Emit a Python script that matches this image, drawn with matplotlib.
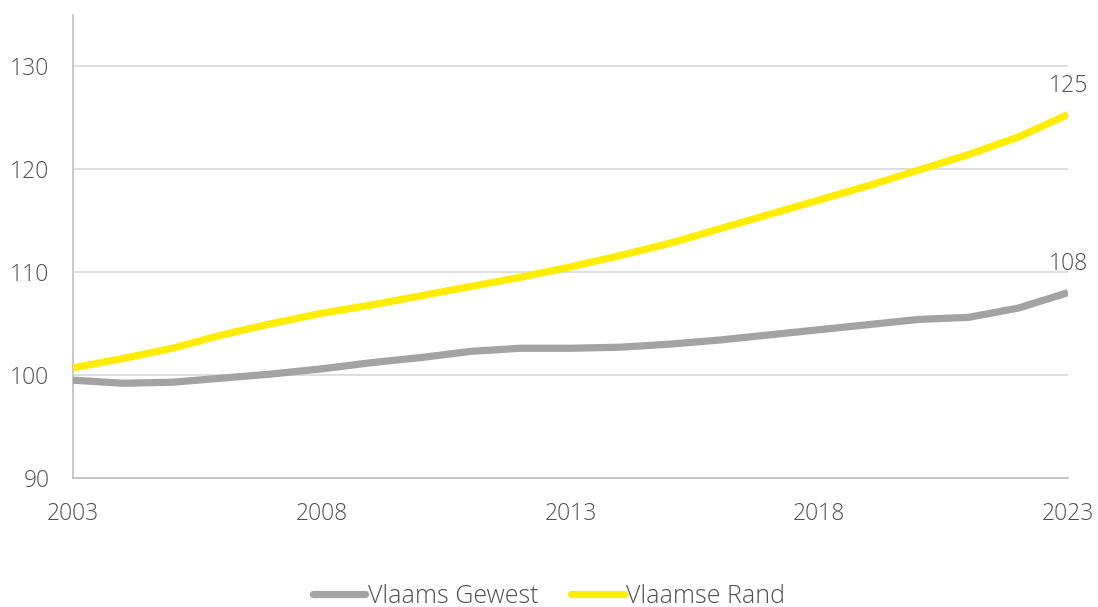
import matplotlib
matplotlib.use("Agg")
import matplotlib.pyplot as plt

years = list(range(2003, 2024))
vlaams_gewest = [99.5, 99.2, 99.3, 99.7, 100.1, 100.6, 101.2, 101.7, 102.3, 102.6, 102.6,
                 102.7, 103.0, 103.4, 103.9, 104.4, 104.9, 105.4, 105.6, 106.5, 108.0]
vlaamse_rand = [100.7, 101.6, 102.6, 103.9, 105.0, 106.0, 106.8, 107.7, 108.6, 109.5, 110.5,
                111.6, 112.8, 114.2, 115.6, 117.0, 118.4, 119.9, 121.4, 123.1, 125.3]
series_names = ["Vlaams Gewest", "Vlaamse Rand"]
end_labels = ["108", "125"]
y_ticks = [90, 100, 110, 120, 130]
x_ticks = [2003, 2008, 2013, 2018, 2023]

plt.rcParams['font.family'] = ['Open Sans', 'DejaVu Sans']
text_col = '#505050'
fs = 16.5

fig = plt.figure(figsize=(10.98, 6.07), dpi=100)
ax = fig.add_axes([73/1098, 0.2125, (1068-73)/1098, 0.976-0.2125])

ax.plot(years, vlaams_gewest, color='#A3A3A3', lw=5.2, solid_capstyle='butt', label=series_names[0], zorder=3)
ax.plot(years, vlaamse_rand, color='#FFED00', lw=5.2, solid_capstyle='butt', label=series_names[1], zorder=3)

ax.set_xlim(2003, 2023)
ax.set_ylim(90, 135)
ax.set_yticks(y_ticks)
ax.set_xticks(x_ticks)
ax.set_yticklabels([str(t) for t in y_ticks], fontsize=fs, color=text_col, fontweight='light')
ax.set_xticklabels([str(t) for t in x_ticks], fontsize=fs, color=text_col, fontweight='light')
ax.tick_params(axis='both', length=0)
ax.tick_params(axis='y', pad=17)
ax.tick_params(axis='x', pad=17)
ax.grid(axis='y', color='#D9D9D9', lw=1.2)
ax.set_axisbelow(True)
for s in ['top', 'right']:
    ax.spines[s].set_visible(False)
ax.spines['left'].set_color('#BFBFBF')
ax.spines['bottom'].set_color('#BFBFBF')
ax.spines['left'].set_linewidth(1.2)
ax.spines['bottom'].set_linewidth(1.2)

ax.annotate(end_labels[0], xy=(years[-1], vlaams_gewest[-1]), xytext=(0, 12), textcoords='offset points',
            ha='center', va='bottom', fontsize=fs, color=text_col, fontweight='light')
ax.annotate(end_labels[1], xy=(years[-1], vlaamse_rand[-1]), xytext=(0, 12), textcoords='offset points',
            ha='center', va='bottom', fontsize=fs, color=text_col, fontweight='light')

leg = fig.legend(loc='lower center', bbox_to_anchor=(0.5, -0.04), ncol=2, frameon=False,
                 fontsize=18, handlelength=2.1, handletextpad=0.1, columnspacing=1.3)
for t in leg.get_texts():
    t.set_color(text_col)
    t.set_fontweight('light')
for l in leg.get_lines():
    l.set_solid_capstyle('round')

fig.savefig('out.png', dpi=100)
